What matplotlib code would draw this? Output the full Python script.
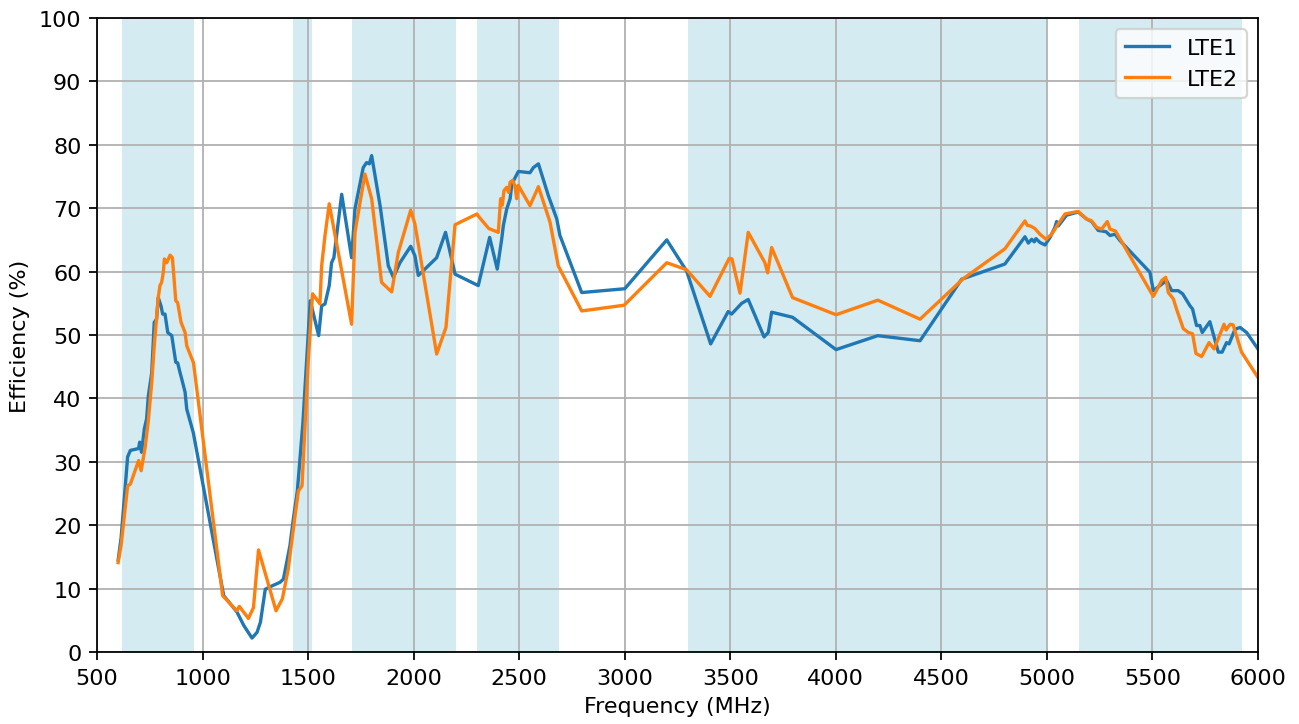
import matplotlib
matplotlib.use("Agg")
import matplotlib.pyplot as plt
import numpy as np

# frequency bands shaded in the background (MHz)
bands = [(617, 960), (1427, 1518), (1710, 2200), (2300, 2690), (3300, 5000), (5150, 5925)]

# LTE1 efficiency curve
lte1_freq = [600, 614, 645, 658, 697, 702, 711, 724, 735, 743, 759, 771, 782, 790, 803, 811,
             822, 835, 854, 873, 882, 893, 901, 917, 925, 956, 1100, 1163, 1195, 1234, 1258,
             1274, 1297, 1327, 1367, 1383, 1414, 1430, 1449, 1475, 1510, 1550, 1564, 1580,
             1600, 1611, 1622, 1659, 1706, 1722, 1761, 1777, 1790, 1801, 1841, 1880, 1904,
             1935, 1986, 2006, 2022, 2038, 2109, 2151, 2196, 2306, 2360, 2396, 2417, 2425,
             2441, 2457, 2465, 2496, 2551, 2567, 2591, 2638, 2678, 2693, 2796, 3000, 3199,
             3293, 3407, 3490, 3506, 3554, 3585, 3660, 3680, 3696, 3795, 4001, 4199, 4399,
             4596, 4801, 4896, 4912, 4928, 4940, 4948, 4967, 4991, 5015, 5038, 5046, 5054,
             5093, 5148, 5188, 5212, 5243, 5280, 5299, 5323, 5346, 5488, 5504, 5567, 5591,
             5622, 5643, 5678, 5690, 5709, 5725, 5736, 5772, 5812, 5830, 5851, 5863, 5891,
             5915, 5946, 6000]
lte1_eff = [14.5, 18.0, 30.8, 31.8, 32.1, 33.1, 31.5, 35.2, 36.8, 40.4, 44.0, 52.0, 52.5, 55.9,
            54.6, 53.3, 53.3, 50.4, 49.9, 45.7, 45.6, 44.1, 43.1, 41.0, 38.3, 34.6, 8.9, 6.3,
            4.2, 2.2, 3.1, 4.7, 9.9, 10.4, 11.0, 11.5, 16.8, 21.0, 25.4, 36.0, 55.4, 49.9,
            54.6, 54.9, 57.8, 61.4, 62.2, 72.2, 62.2, 69.9, 76.4, 77.2, 77.0, 78.3, 70.4,
            60.9, 59.1, 61.4, 64.0, 62.5, 59.4, 59.9, 62.2, 66.2, 59.6, 57.8, 65.4, 60.4,
            65.1, 67.3, 69.9, 71.5, 73.8, 75.8, 75.6, 76.4, 77.0, 72.0, 68.3, 65.7, 56.7,
            57.3, 65.0, 60.1, 48.6, 53.7, 53.3, 55.0, 55.6, 49.7, 50.4, 53.6, 52.8, 47.7,
            49.9, 49.1, 58.8, 61.2, 65.5, 64.5, 65.1, 64.7, 65.2, 64.6, 64.2, 65.4, 67.0,
            67.9, 67.2, 68.9, 69.4, 68.3, 67.9, 66.5, 66.3, 65.7, 65.9, 64.9, 59.9, 57.0,
            58.6, 57.0, 57.0, 56.5, 54.6, 54.1, 51.5, 51.5, 50.4, 52.1, 47.3, 47.3, 48.8,
            48.6, 50.9, 51.2, 50.4, 47.8]

# LTE2 efficiency curve
lte2_freq = [600, 614, 645, 658, 697, 709, 728, 743, 759, 771, 790, 798, 806, 814, 819, 830,
             846, 857, 873, 882, 898, 917, 925, 957, 1095, 1162, 1174, 1217, 1241, 1265, 1348,
             1378, 1406, 1438, 1454, 1471, 1501, 1521, 1556, 1564, 1580, 1600, 1619, 1706,
             1722, 1769, 1801, 1848, 1896, 1927, 1986, 2006, 2109, 2153, 2196, 2300, 2310,
             2356, 2401, 2412, 2420, 2428, 2441, 2450, 2457, 2469, 2480, 2488, 2496, 2551,
             2591, 2646, 2685, 2796, 2997, 3199, 3293, 3404, 3495, 3508, 3546, 3585, 3664,
             3677, 3696, 3795, 4001, 4199, 4399, 4604, 4801, 4896, 4907, 4922, 4943, 4967,
             4996, 5022, 5038, 5049, 5086, 5148, 5188, 5212, 5235, 5259, 5286, 5299, 5325,
             5504, 5544, 5563, 5575, 5599, 5614, 5646, 5670, 5690, 5706, 5733, 5768, 5792,
             5839, 5849, 5868, 5882, 5922, 6000]
lte2_eff = [14.1, 16.8, 26.2, 26.5, 30.2, 28.6, 32.3, 36.5, 42.5, 48.3, 55.9, 57.8, 58.3, 59.9,
            62.0, 61.4, 62.6, 62.2, 55.4, 55.1, 52.0, 50.4, 48.3, 45.6, 8.9, 6.5, 7.2, 5.3,
            7.0, 16.1, 6.5, 8.4, 13.1, 21.5, 25.4, 26.2, 46.2, 56.5, 54.9, 60.9, 65.7, 70.7,
            67.3, 51.7, 66.2, 75.4, 71.5, 58.3, 56.8, 63.0, 69.7, 67.5, 47.0, 51.2, 67.4,
            69.1, 68.6, 66.8, 66.2, 71.5, 70.5, 72.8, 73.3, 72.5, 74.1, 74.4, 73.5, 71.5,
            73.6, 70.4, 73.4, 67.8, 60.9, 53.8, 54.7, 61.4, 60.3, 56.1, 62.1, 62.0, 56.6,
            66.2, 61.4, 59.8, 63.8, 55.9, 53.2, 55.5, 52.5, 58.9, 63.6, 68.0, 67.3, 67.2,
            66.8, 65.9, 65.1, 65.9, 66.7, 67.3, 69.1, 69.5, 68.3, 68.0, 67.0, 66.7, 67.9,
            66.7, 66.4, 56.1, 58.6, 59.1, 56.7, 55.7, 54.1, 51.0, 50.4, 50.2, 47.1, 46.6,
            48.8, 47.8, 51.7, 50.8, 51.7, 51.6, 47.3, 43.3]

fig, ax = plt.subplots(figsize=(8.119, 4.531), dpi=160)
fig.subplots_adjust(left=0.0747, right=0.9684, top=0.9738, bottom=0.0993)

for lo, hi in bands:
    ax.axvspan(lo, hi, color="#add8e6", alpha=0.5, linewidth=0)

ax.plot(lte1_freq, lte1_eff, color="#1f77b4", linewidth=1.5, label="LTE1")
ax.plot(lte2_freq, lte2_eff, color="#ff7f0e", linewidth=1.5, label="LTE2")

ax.set_xlim(500, 6000)
ax.set_ylim(0, 100)
ax.set_xticks(np.arange(500, 6001, 500))
ax.set_yticks(np.arange(0, 101, 10))
ax.grid(True)
ax.set_xlabel("Frequency (MHz)")
ax.set_ylabel("Efficiency (%)")
ax.legend(loc="upper right")

fig.savefig("out.png", dpi=160)
